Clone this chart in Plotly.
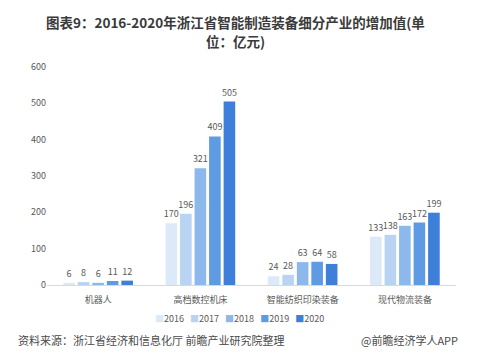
import plotly.graph_objects as go

categories = ["机器人", "高档数控机床", "智能纺织印染装备", "现代物流装备"]
years = ["2016", "2017", "2018", "2019", "2020"]
values = {
    "2016": [6, 170, 24, 133],
    "2017": [8, 196, 28, 138],
    "2018": [6, 321, 63, 163],
    "2019": [11, 409, 64, 172],
    "2020": [12, 505, 58, 199],
}
y_ticks = [0, 100, 200, 300, 400, 500, 600]
colors = ["#dce9f8", "#b9d4f2", "#8db8ec", "#5f9be3", "#3d7fd9"]

FONT = "Noto Sans CJK SC"
GRAY = "#595959"

fig = go.Figure()
for yr, col in zip(years, colors):
    fig.add_trace(go.Bar(
        name=yr, x=categories, y=values[yr],
        marker=dict(color=col, line=dict(width=0)),
        text=[str(v) for v in values[yr]], textposition="outside",
        textfont=dict(size=9, color=GRAY, family=FONT),
        constraintext="none",
        cliponaxis=False, showlegend=False,
    ))

legend_txt = "   ".join(
    f"<span style='color:{c}'>■</span>{y}" for y, c in zip(years, colors)
)

fig.update_layout(
    width=494, height=357,
    margin=dict(l=47, r=38, t=67, b=72),
    paper_bgcolor="white", plot_bgcolor="white",
    barmode="group", bargap=0.29, bargroupgap=0.2,
    font=dict(family=FONT, color=GRAY, size=9),
    xaxis=dict(showline=True, linecolor="#d9d9d9", linewidth=1, ticks="",
               ticklabelstandoff=6,
               tickfont=dict(size=9, color=GRAY), showgrid=False),
    yaxis=dict(range=[0, 600], tickvals=y_ticks, showgrid=False, zeroline=False,
               showline=False, tickfont=dict(size=9, color=GRAY), ticks=""),
    annotations=[
        dict(text="<b>图表9：2016-2020年浙江省智能制造装备细分产业的增加值(单</b>",
             xref="paper", yref="paper", x=0.46, y=1.0, yshift=45, xanchor="center",
             yanchor="middle", showarrow=False, align="center",
             font=dict(size=13.5, color="#3a3a3a", family=FONT)),
        dict(text="<b>位：亿元)</b>",
             xref="paper", yref="paper", x=0.46, y=1.0, yshift=26, xanchor="center",
             yanchor="middle", showarrow=False, align="center",
             font=dict(size=13.5, color="#3a3a3a", family=FONT)),
        dict(text=legend_txt, xref="paper", yref="paper", x=0.47, y=0, yshift=-33,
             xanchor="center", yanchor="middle", showarrow=False,
             font=dict(size=9, color=GRAY, family=FONT)),
        dict(text="资料来源：浙江省经济和信息化厅 前瞻产业研究院整理", xref="paper", yref="paper",
             x=0, xshift=-31, y=0, yshift=-55, xanchor="left", yanchor="middle",
             showarrow=False, font=dict(size=11, color="#4a4a4a", family=FONT)),
        dict(text="@前瞻经济学人APP", xref="paper", yref="paper",
             x=1, xshift=4, y=0, yshift=-55, xanchor="right", yanchor="middle",
             showarrow=False, font=dict(size=11, color="#4a4a4a", family=FONT)),
    ],
)

fig.write_html("out.html")
